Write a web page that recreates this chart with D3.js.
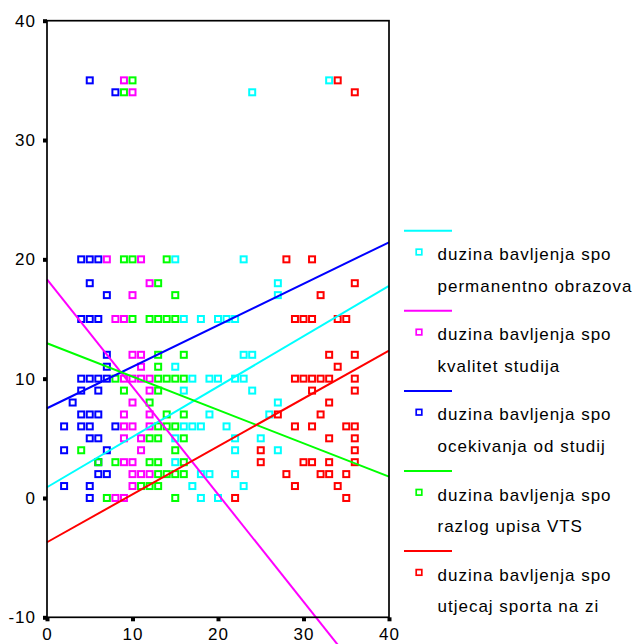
<!DOCTYPE html>
<html lang="en">
<head>
    <meta charset="UTF-8">
    <title>Scatter</title>
    <script src="https://cdn.jsdelivr.net/npm/d3@7"></script>
    <style>
        body { margin: 0; background: #fff; }
        text { font-family: Arial, "Liberation Sans", sans-serif; }
    </style>
</head>
<body>
<script type="text/javascript">
    // legend labels (two lines each)
    var seriesLabels = [
        ['duzina bavljenja spo', 'permanentno obrazova'],
        ['duzina bavljenja spo', 'kvalitet studija'],
        ['duzina bavljenja spo', 'ocekivanja od studij'],
        ['duzina bavljenja spo', 'razlog upisa VTS'],
        ['duzina bavljenja spo', 'utjecaj sporta na zi']
    ];
    var seriesColors = ['#00ffff', '#ff00ff', '#0000ff', '#00ff00', '#ff0000'];

    // [x, y] points
    var permanentno = [[33,35],[24,34],[15,20],[23,20],[27,18],[27,17],[16,15],[18,15],[20,15],[21,15],[22,15],
        [23,12],[24,12],[15,11],[17,10],[19,10],[20,10],[22,10],[23,10],[16,9],[24,9],[27,8],[19,7],[26,7],
        [16,6],[17,6],[18,6],[21,6],[15,5],[22,5],[25,5],[22,4],[27,4],[15,3],[18,2],[19,2],[22,2],
        [17,1],[23,1],[18,0],[20,0]];
    var kvalitet = [[9,35],[10,34],[7,20],[11,20],[12,18],[10,17],[8,15],[9,15],[10,12],[11,12],[11,11],
        [9,10],[10,10],[11,10],[12,10],[12,9],[10,8],[9,7],[12,7],[9,6],[10,6],[12,6],[9,5],[11,5],[11,4],
        [9,3],[10,3],[10,2],[11,2],[12,2],[10,1],[8,0],[9,0]];
    var ocekivanja = [[5,35],[8,34],[4,20],[5,20],[6,20],[5,18],[7,17],[4,15],[5,15],[6,15],[7,12],[7,11],
        [4,10],[5,10],[6,10],[7,10],[4,9],[6,9],[3,8],[4,7],[5,7],[6,7],[2,6],[4,6],[5,6],[8,6],[5,5],[6,5],
        [2,4],[7,4],[6,3],[6,2],[7,2],[2,1],[5,1],[5,0]];
    var razlog = [[10,35],[9,34],[9,20],[10,20],[14,20],[13,18],[15,17],[10,15],[12,15],[13,15],[14,15],[15,15],
        [13,12],[16,12],[13,11],[8,10],[13,10],[14,10],[15,10],[16,10],[9,9],[13,9],[12,8],[14,7],[16,7],
        [13,6],[14,6],[15,6],[12,5],[13,5],[16,5],[4,4],[15,4],[6,3],[8,3],[12,3],[13,3],[16,3],
        [13,2],[14,2],[15,2],[16,2],[11,1],[12,1],[13,1],[7,0],[15,0]];
    var utjecaj = [[34,35],[36,34],[28,20],[31,20],[36,18],[32,17],[29,15],[30,15],[31,15],[34,15],[35,15],
        [33,12],[36,12],[34,11],[29,10],[30,10],[31,10],[32,10],[33,10],[36,10],[31,9],[36,9],[33,8],
        [27,7],[32,7],[29,6],[31,6],[35,6],[36,6],[33,5],[36,5],[25,4],[36,4],[25,3],[30,3],[31,3],[33,3],[36,3],
        [28,2],[32,2],[33,2],[35,2],[29,1],[34,1],[22,0],[35,0]];
    var seriesPoints = [permanentno, kvalitet, ocekivanja, razlog, utjecaj];

    // fit lines: y at x=0 and y at x=40
    var lineStart = [0.9, 18.33, 7.52, 12.97, -3.71];
    var lineEnd = [17.77, -17.7, 21.43, 1.79, 12.35];

    var xTicks = [0, 10, 20, 30, 40];
    var yTicks = [-10, 0, 10, 20, 30, 40];

    var width = 637, height = 644;
    var x = d3.scaleLinear().domain([0, 40]).range([47, 389]);
    var y = d3.scaleLinear().domain([-10, 40]).range([617.3, 20.7]);

    var svg = d3.select('body').append('svg')
            .attr('width', width)
            .attr('height', height);

    // points
    seriesPoints.forEach(function (pts, i) {
        svg.append('g').selectAll('rect')
                .data(pts)
                .enter()
                .append('rect')
                .attr('x', function (d) { return x(d[0]) - 3; })
                .attr('y', function (d) { return y(d[1]) - 3; })
                .attr('width', 6)
                .attr('height', 6)
                .attr('fill', 'none')
                .attr('stroke', seriesColors[i])
                .attr('stroke-width', 2);
    });

    // fit lines
    svg.append('g').selectAll('line')
            .data(lineStart)
            .enter()
            .append('line')
            .attr('x1', x(0))
            .attr('y1', function (d) { return y(d); })
            .attr('x2', x(40))
            .attr('y2', function (d, i) { return y(lineEnd[i]); })
            .attr('stroke', function (d, i) { return seriesColors[i]; })
            .attr('stroke-width', 2);

    // frame
    svg.append('rect')
            .attr('x', x(0))
            .attr('y', y(40))
            .attr('width', x(40) - x(0))
            .attr('height', y(-10) - y(40))
            .attr('fill', 'none')
            .attr('stroke', '#000')
            .attr('stroke-width', 1.7);

    var plain = function (d) { return String(d); };//plain hyphen for negatives
    var yAxis = d3.axisLeft(y).tickValues(yTicks).tickFormat(plain).tickSize(4).tickPadding(7).tickSizeOuter(0);
    var gy = svg.append('g').attr('transform', 'translate(' + x(0) + ',0)').call(yAxis);
    var xAxis = d3.axisBottom(x).tickValues(xTicks).tickFormat(plain).tickSize(4).tickPadding(7).tickSizeOuter(0);
    var gx = svg.append('g').attr('transform', 'translate(0,' + y(-10) + ')').call(xAxis);
    [gx, gy].forEach(function (g) {
        g.select('.domain').remove();
        g.selectAll('.tick line').attr('stroke', '#000').attr('stroke-width', 4);
        g.selectAll('.tick text')
                .attr('fill', '#000')
                .style('font-size', '17px')
                .style('letter-spacing', '1px')
                .style('font-family', 'Arial, "Liberation Sans", sans-serif');
    });

    // legend
    var legend = svg.append('g').selectAll('g')
            .data(seriesLabels)
            .enter()
            .append('g')
            .attr('transform', function (d, i) { return 'translate(0,' + (230.7 + i * 80.1) + ')'; });
    legend.append('line')
            .attr('x1', 404).attr('x2', 452)
            .attr('y1', 0).attr('y2', 0)
            .attr('stroke', function (d, i) { return seriesColors[i]; })
            .attr('stroke-width', 2);
    legend.append('rect')
            .attr('x', 416.2).attr('y', 18.5)
            .attr('width', 5.6).attr('height', 5.6)
            .attr('fill', 'none')
            .attr('stroke', function (d, i) { return seriesColors[i]; })
            .attr('stroke-width', 1.7);
    legend.append('text')
            .attr('x', 437.5).attr('y', 29.5)
            .style('font-size', '17px')
            .style('letter-spacing', '1px')
            .text(function (d) { return d[0]; });
    legend.append('text')
            .attr('x', 437.5).attr('y', 61)
            .style('font-size', '17px')
            .style('letter-spacing', '1px')
            .text(function (d) { return d[1]; });
</script>
</body>
</html>
